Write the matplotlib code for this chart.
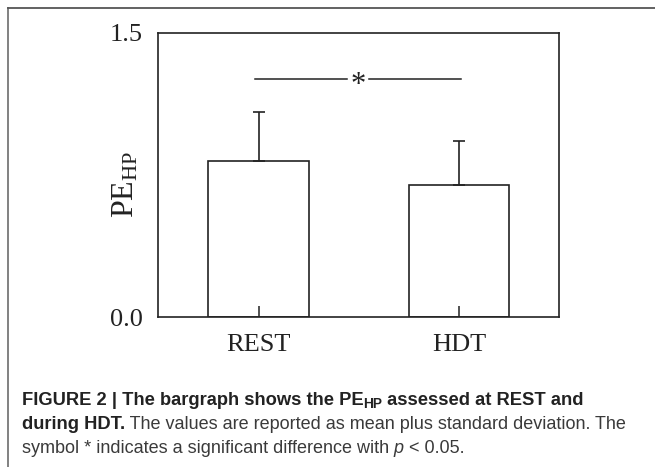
import matplotlib
matplotlib.use("Agg")
import matplotlib.pyplot as plt
from matplotlib.lines import Line2D

categories = ["REST", "HDT"]
means = [0.824, 0.699]
sds = [0.258, 0.229]
sig_level = 1.255
y_ticks = [0.0, 1.5]
y_tick_labels = ["0.0", "1.5"]

plt.rcParams['mathtext.fontset'] = 'custom'
plt.rcParams['mathtext.rm'] = 'Liberation Serif'
plt.rcParams['mathtext.it'] = 'Liberation Serif:italic'

W, H = 655, 467
fig = plt.figure(figsize=(W / 100, H / 100), dpi=100)
ax = fig.add_axes([158.3 / W, 1 - 317.3 / H, 401 / W, 284.6 / H])
ax.set_axisbelow(False)

serif = 'Liberation Serif'
x = list(range(len(categories)))
ax.bar(x, means, width=0.5, color='white', edgecolor='#222222', linewidth=1.2, zorder=2)
ax.errorbar(x, means, yerr=[[0] * len(sds), sds], fmt='none', ecolor='#222222',
            elinewidth=1.2, capsize=4, capthick=1.2, zorder=3)

ax.set_xlim(-0.5, 1.5)
ax.set_ylim(0, 1.5)
ax.set_xticks(x)
ax.set_xticklabels(categories, fontfamily=serif, fontsize=19, color='#222222')
ax.set_yticks(y_ticks)
ax.set_yticklabels(y_tick_labels, fontfamily=serif, fontsize=19, color='#222222')
ax.tick_params(axis='x', direction='in', length=8, width=1.1, color='#222222', pad=12)
ax.tick_params(axis='y', length=0, pad=11)
for s in ax.spines.values():
    s.set_linewidth(1.2)
    s.set_color('#222222')

ax.set_ylabel(r'$\mathrm{PE}_{\mathrm{HP}}$', fontsize=23, color='#222222', va='center')
ax.yaxis.set_label_coords(-0.084, 0.468)

# significance bar
ax.plot([-0.02, 0.44], [sig_level, sig_level], color='#222222', lw=1.1)
ax.plot([0.55, 1.01], [sig_level, sig_level], color='#222222', lw=1.1)
ax.text(0.495, sig_level - 0.035, '*', ha='center', va='center', fontfamily=serif,
        fontsize=22, color='#222222')

# frame lines
fig.add_artist(Line2D([7.5 / W, 7.5 / W], [0, 1 - 8.3 / H], transform=fig.transFigure,
                      color='#777777', lw=1.3))
fig.add_artist(Line2D([7.5 / W, 1], [1 - 8.3 / H, 1 - 8.3 / H], transform=fig.transFigure,
                      color='#555555', lw=1.3))

# caption
sans = 'Liberation Sans'
cap_bold = '#222222'
cap_reg = '#3a3a3a'
fsb = 13.2
fsr = 13.0
renderer = fig.canvas.get_renderer()


def put(parts, x0, y_base):
    xp = x0
    for txt, kw in parts:
        dy = kw.pop('dy', 0)
        t = fig.text(xp / W, 1 - (y_base - dy) / H, txt, ha='left', va='baseline',
                     fontfamily=sans, **kw)
        bb = t.get_window_extent(renderer=renderer)
        xp += bb.width


put([("FIGURE 2 | The bargraph shows the PE", dict(fontsize=fsb, fontweight='bold', color=cap_bold)),
     ("HP", dict(fontsize=fsb * 0.75, fontweight='bold', color=cap_bold, dy=-3.5)),
     (" assessed at REST and", dict(fontsize=fsb, fontweight='bold', color=cap_bold))], 21.7, 405)
put([("during HDT.", dict(fontsize=fsb, fontweight='bold', color=cap_bold)),
     (" The values are reported as mean plus standard deviation. The",
      dict(fontsize=fsr, color=cap_reg))], 21.7, 429)
put([("symbol * indicates a significant difference with ", dict(fontsize=fsr, color=cap_reg)),
     ("p", dict(fontsize=fsr, fontstyle='italic', color=cap_reg)),
     (" < 0.05.", dict(fontsize=fsr, color=cap_reg))], 21.7, 453)

fig.savefig('out.png', dpi=100)
